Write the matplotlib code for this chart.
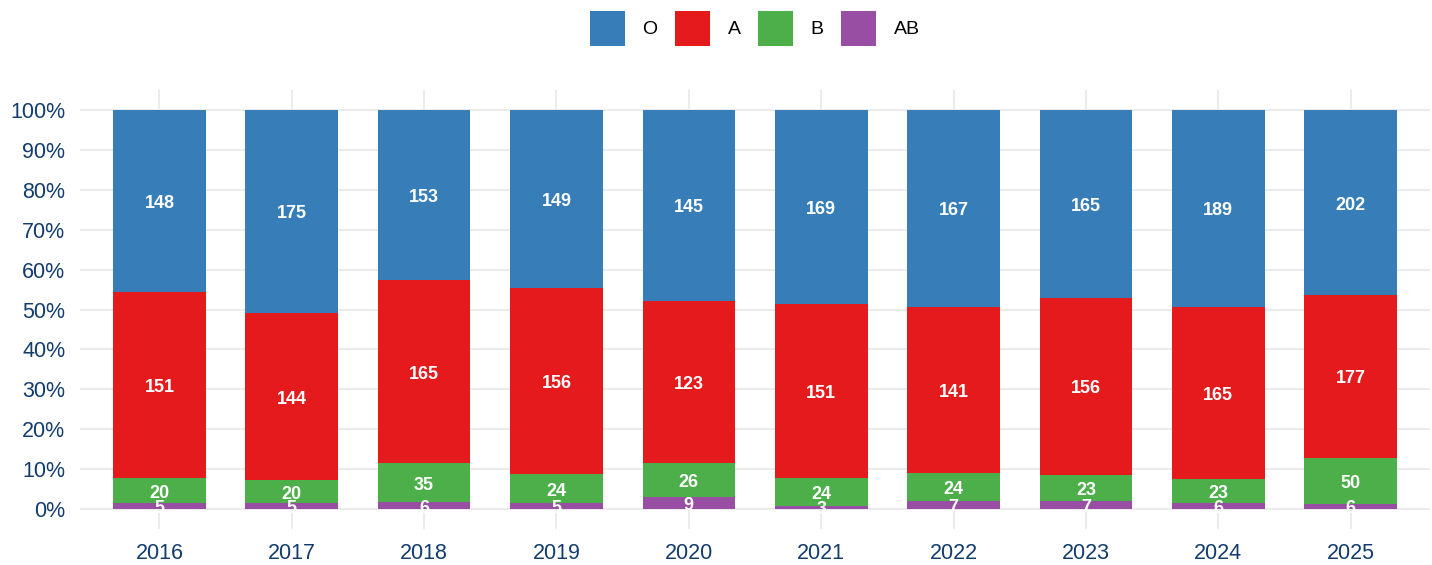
import numpy as np
import matplotlib.pyplot as plt
from matplotlib.patches import Patch

plt.rcParams['font.family'] = ['Liberation Sans', 'DejaVu Sans']

years = ['2016', '2017', '2018', '2019', '2020', '2021', '2022', '2023', '2024', '2025']
groups = ['O', 'A', 'B', 'AB']
o_counts = [148, 175, 153, 149, 145, 169, 167, 165, 189, 202]
a_counts = [151, 144, 165, 156, 123, 151, 141, 156, 165, 177]
b_counts = [20, 20, 35, 24, 26, 24, 24, 23, 23, 50]
ab_counts = [5, 5, 6, 5, 9, 3, 7, 7, 6, 6]
colors = ['#377EB8', '#E41A1C', '#4DAF4A', '#984EA3']
tick_color = '#123C6E'

counts = np.array([o_counts, a_counts, b_counts, ab_counts], dtype=float)
shares = counts / counts.sum(axis=0)

fig = plt.figure(figsize=(14.32, 5.65), dpi=100)
ax = fig.add_axes([80 / 1432, 36 / 565, 1350 / 1432, 439 / 565])

x = np.arange(len(years))
# stack from the bottom: AB, B, A, O
bottom = np.zeros(len(years))
for i in [3, 2, 1, 0]:
    ax.bar(x, shares[i], 0.7, bottom=bottom, color=colors[i], zorder=2)
    for j in range(len(years)):
        ax.annotate(str(int(counts[i][j])), (x[j], bottom[j] + shares[i][j] / 2),
                    xytext=(0, -1.8), textcoords='offset points',
                    ha='center', va='center', color='white', fontsize=13,
                    fontweight='bold', zorder=3)
    bottom += shares[i]

ax.set_xlim(-0.6, len(years) - 0.4)
ax.set_ylim(-0.05, 1.05)
ax.set_yticks(np.arange(0, 1.01, 0.1))
ax.set_yticklabels([f'{int(round(v * 100))}%' for v in np.arange(0, 1.01, 0.1)])
ax.set_xticks(x)
ax.set_xticklabels(years)
ax.tick_params(axis='both', length=0, colors=tick_color, labelsize=15.5)
ax.tick_params(axis='y', pad=10.5)
ax.tick_params(axis='x', pad=10)
ax.grid(True, color='#EBEBEB', linewidth=1.5, zorder=0)
ax.set_axisbelow(True)
for s in ax.spines.values():
    s.set_visible(False)

handles = [Patch(facecolor=colors[i], label=groups[i]) for i in range(4)]
fig.legend(handles=handles, loc='upper center', bbox_to_anchor=(0.527, 1.012),
           ncol=4, frameon=False, fontsize=14, handlelength=1.8,
           handleheight=2.4, handletextpad=0.9, columnspacing=0.9)

fig.savefig('out.png', dpi=100)
